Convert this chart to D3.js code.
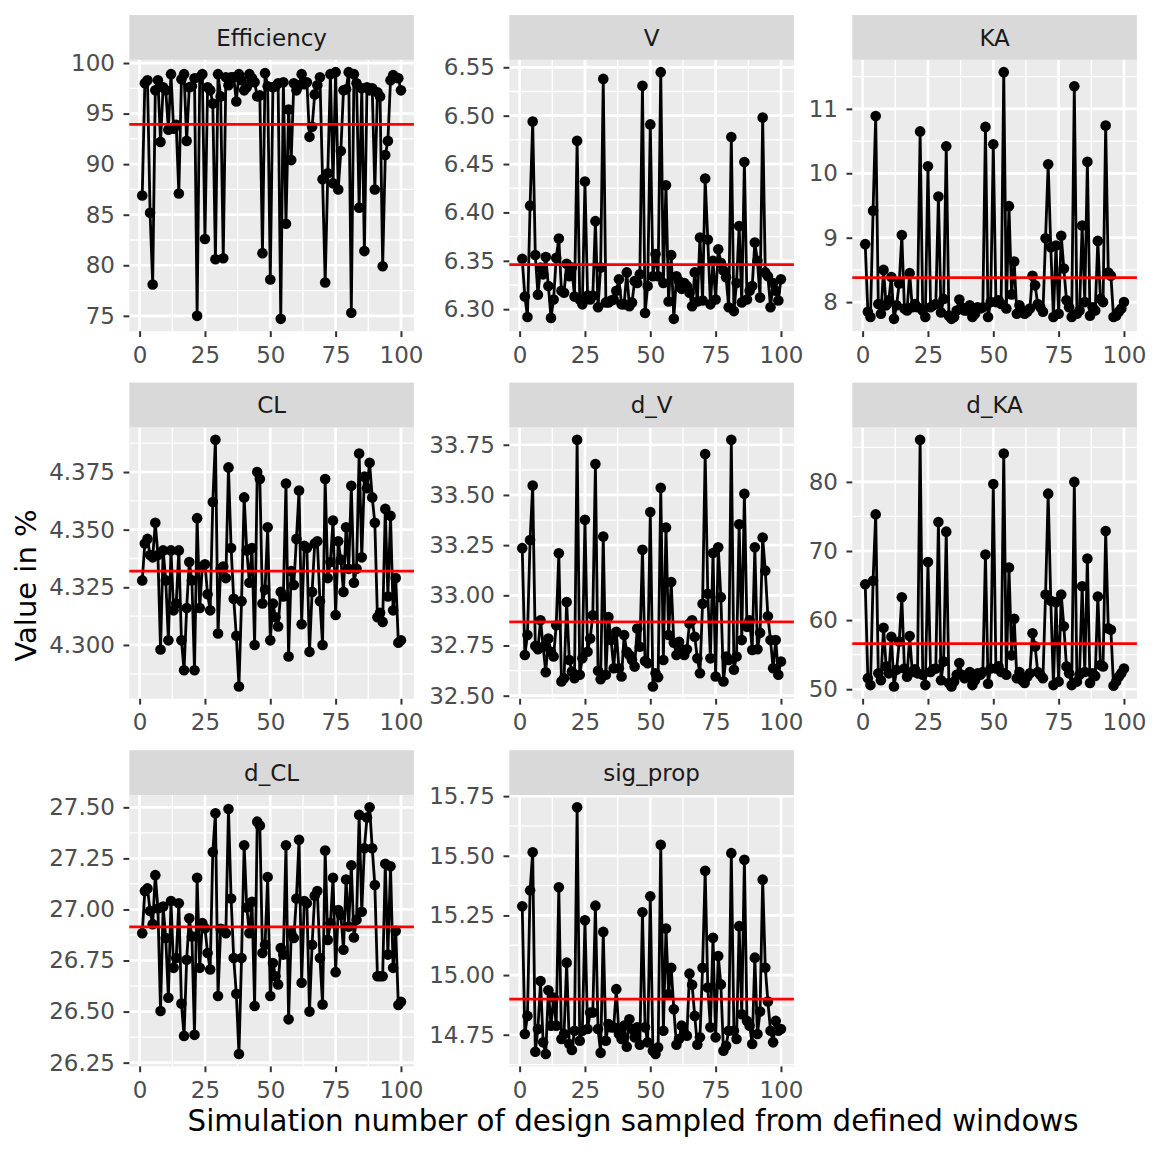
<!DOCTYPE html>
<html>
<head>
<meta charset="utf-8">
<title>Simulation parameters by design</title>
<script src="https://d3js.org/d3.v7.min.js"></script>
<style>
    body { margin: 0; background: white; }
    svg { display: block; font-family: "DejaVu Sans", sans-serif; }
</style>
</head>
<body>
<svg id="chart" width="1152" height="1152"></svg>
<script>
'use strict';

// facet names, in panel order
const params = ["Efficiency", "V", "KA", "CL", "d_V", "d_KA", "d_CL", "sig_prop"];

// simulation numbers 1..100 (x axis)
const simNumbers = d3.range(1, 101);

const efficiency = [
    86.9, 98.0, 98.3, 85.2, 78.1, 97.3, 98.3, 92.2, 97.6, 97.3,
    93.4, 98.9, 93.5, 93.9, 87.1, 98.4, 98.9, 92.3, 97.6, 97.7,
    98.5, 75.0, 98.6, 98.9, 82.6, 97.6, 97.3, 96.0, 80.6, 98.9,
    96.7, 80.7, 98.6, 97.8, 98.6, 98.6, 96.2, 98.9, 98.3, 97.3,
    97.6, 98.9, 98.5, 98.1, 96.7, 96.8, 81.2, 99.0, 97.7, 78.6,
    97.6, 97.7, 98.0, 74.7, 98.1, 84.1, 95.4, 90.4, 98.0, 97.3,
    97.8, 98.9, 97.9, 98.1, 92.7, 93.7, 96.9, 97.8, 98.6, 88.5,
    78.3, 89.1, 98.9, 88.1, 99.1, 87.5, 91.3, 97.3, 97.4, 99.1,
    75.3, 98.9, 98.0, 85.7, 97.5, 81.4, 97.6, 97.3, 97.5, 87.5,
    97.1, 96.7, 79.9, 90.9, 92.3, 98.3, 98.8, 98.6, 98.5, 97.3
];

const vValues = [
    6.352, 6.313, 6.292, 6.407, 6.494, 6.356, 6.315, 6.343, 6.336, 6.354,
    6.324, 6.291, 6.310, 6.353, 6.373, 6.319, 6.317, 6.347, 6.334, 6.343,
    6.313, 6.474, 6.310, 6.305, 6.432, 6.314, 6.310, 6.314, 6.391, 6.302,
    6.343, 6.538, 6.307, 6.307, 6.309, 6.310, 6.319, 6.331, 6.305, 6.305,
    6.338, 6.303, 6.307, 6.329, 6.327, 6.336, 6.531, 6.296, 6.324, 6.491,
    6.334, 6.357, 6.334, 6.545, 6.327, 6.428, 6.308, 6.356, 6.290, 6.334,
    6.329, 6.321, 6.327, 6.324, 6.317, 6.303, 6.338, 6.308, 6.374, 6.309,
    6.435, 6.372, 6.305, 6.350, 6.310, 6.362, 6.348, 6.340, 6.333, 6.302,
    6.478, 6.298, 6.327, 6.386, 6.307, 6.452, 6.310, 6.319, 6.324, 6.369,
    6.350, 6.312, 6.498, 6.338, 6.334, 6.302, 6.327, 6.319, 6.309, 6.331
];

const kaValues = [
    8.90, 7.85, 7.77, 9.42, 10.89, 7.97, 7.82, 8.50, 7.95, 8.03,
    8.39, 7.74, 7.95, 8.29, 9.04, 7.90, 7.87, 8.45, 7.92, 7.97,
    7.92, 10.65, 7.87, 7.77, 10.11, 7.92, 7.95, 7.97, 9.64, 7.84,
    8.05, 10.42, 7.79, 7.74, 7.77, 7.87, 8.04, 7.92, 7.87, 7.87,
    7.95, 7.77, 7.82, 7.92, 7.90, 7.92, 10.72, 7.77, 8.00, 10.45,
    8.00, 8.03, 7.97, 11.57, 7.90, 9.49, 8.12, 8.63, 7.82, 7.95,
    7.87, 7.82, 7.85, 7.90, 8.41, 8.26, 7.97, 7.92, 7.85, 8.99,
    10.14, 8.85, 7.77, 8.88, 7.82, 9.03, 8.52, 8.03, 7.92, 7.77,
    11.35, 7.82, 7.87, 9.19, 8.00, 10.18, 7.79, 7.92, 7.87, 8.95,
    8.05, 8.00, 10.74, 8.46, 8.41, 7.77, 7.79, 7.85, 7.90, 8.00
];

const clValues = [
    4.328, 4.344, 4.346, 4.339, 4.338, 4.353, 4.339, 4.298, 4.341, 4.328,
    4.302, 4.341, 4.315, 4.318, 4.341, 4.302, 4.289, 4.316, 4.336, 4.328,
    4.289, 4.355, 4.316, 4.334, 4.335, 4.322, 4.315, 4.362, 4.389, 4.305,
    4.333, 4.334, 4.329, 4.377, 4.342, 4.320, 4.304, 4.282, 4.319, 4.364,
    4.341, 4.327, 4.342, 4.300, 4.375, 4.372, 4.318, 4.324, 4.351, 4.302,
    4.318, 4.312, 4.308, 4.323, 4.321, 4.370, 4.295, 4.332, 4.326, 4.346,
    4.367, 4.309, 4.343, 4.342, 4.297, 4.323, 4.344, 4.345, 4.319, 4.300,
    4.372, 4.329, 4.336, 4.354, 4.313, 4.345, 4.337, 4.323, 4.351, 4.333,
    4.369, 4.327, 4.333, 4.383, 4.338, 4.373, 4.368, 4.379, 4.364, 4.353,
    4.312, 4.314, 4.310, 4.359, 4.321, 4.356, 4.315, 4.329, 4.301, 4.302
];

const dVValues = [
    33.235, 32.703, 32.802, 33.275, 33.547, 32.747, 32.731, 32.876, 32.744, 32.617,
    32.785, 32.719, 32.695, 32.851, 33.209, 32.571, 32.587, 32.967, 32.678, 32.620,
    32.587, 33.775, 32.604, 32.686, 33.376, 32.719, 32.785, 32.901, 33.654, 32.624,
    32.582, 33.293, 32.604, 32.892, 32.777, 32.637, 32.818, 32.637, 32.596, 32.802,
    32.719, 32.703, 32.678, 32.645, 32.835, 32.744, 33.227, 32.673, 32.662, 33.415,
    32.546, 32.612, 32.592, 33.536, 32.678, 33.338, 32.802, 33.066, 32.764, 32.703,
    32.769, 32.731, 32.703, 32.731, 32.860, 32.876, 32.794, 32.686, 32.612, 32.958,
    33.704, 33.008, 32.686, 33.211, 32.596, 33.239, 32.991, 32.571, 32.695, 32.678,
    33.775, 32.629, 32.695, 33.354, 32.777, 33.506, 32.843, 32.876, 32.728, 33.239,
    32.731, 32.813, 33.288, 33.123, 32.896, 32.777, 32.637, 32.777, 32.604, 32.670
];

const dKAValues = [
    65.2, 51.6, 50.6, 65.7, 75.3, 52.3, 51.3, 58.9, 53.3, 52.3,
    57.6, 50.4, 52.8, 56.9, 63.3, 53.0, 51.8, 57.7, 52.5, 52.9,
    52.3, 86.1, 52.1, 50.6, 68.4, 52.5, 52.9, 53.0, 74.2, 51.3,
    54.0, 72.8, 50.9, 50.4, 51.1, 52.1, 53.8, 52.1, 51.6, 51.8,
    52.5, 50.6, 51.3, 52.3, 52.1, 52.5, 69.5, 50.8, 53.0, 79.7,
    53.0, 53.3, 52.5, 84.1, 52.1, 67.6, 54.9, 60.2, 51.6, 52.5,
    51.3, 50.9, 51.8, 52.3, 58.1, 56.2, 52.5, 52.1, 51.6, 63.7,
    78.3, 62.8, 50.6, 62.6, 51.1, 63.7, 59.1, 53.3, 52.3, 50.6,
    80.0, 51.1, 52.1, 64.9, 52.5, 68.9, 50.9, 52.3, 51.9, 63.4,
    53.5, 53.3, 72.9, 58.8, 58.6, 50.5, 51.1, 51.8, 52.3, 53.0
];

const dCLValues = [
    26.884, 27.090, 27.103, 26.993, 26.928, 27.168, 27.005, 26.503, 27.014, 26.860,
    26.568, 27.041, 26.714, 26.762, 27.030, 26.539, 26.381, 26.754, 26.957, 26.868,
    26.386, 27.155, 26.714, 26.933, 26.908, 26.787, 26.706, 27.281, 27.471, 26.576,
    26.905, 26.900, 26.884, 27.492, 27.054, 26.762, 26.587, 26.292, 26.762, 27.314,
    27.009, 26.884, 27.038, 26.527, 27.430, 27.411, 26.787, 26.827, 27.159, 26.576,
    26.738, 26.673, 26.633, 26.811, 26.779, 27.314, 26.462, 26.884, 26.860, 27.054,
    27.341, 26.641, 27.041, 27.030, 26.500, 26.827, 27.067, 27.090, 26.762, 26.535,
    27.289, 26.851, 26.933, 27.155, 26.693, 26.997, 26.973, 26.803, 27.147, 26.916,
    27.216, 26.863, 26.949, 27.463, 26.989, 27.300, 27.450, 27.500, 27.300, 27.120,
    26.673, 26.673, 26.673, 27.224, 26.779, 27.211, 26.714, 26.895, 26.532, 26.548
];

const sigPropValues = [
    15.288, 14.753, 14.829, 15.355, 15.515, 14.679, 14.774, 14.975, 14.718, 14.669,
    14.936, 14.788, 14.906, 14.788, 15.368, 14.732, 14.753, 15.052, 14.711, 14.686,
    14.767, 15.703, 14.725, 14.767, 15.230, 14.774, 14.843, 14.843, 15.291, 14.774,
    14.674, 15.181, 14.725, 14.795, 14.781, 14.781, 14.941, 14.753, 14.732, 14.788,
    14.700, 14.815, 14.774, 14.739, 14.781, 14.708, 15.263, 14.781, 14.718, 15.330,
    14.683, 14.669, 14.697, 15.546, 14.767, 15.195, 14.920, 15.031, 14.857, 14.708,
    14.732, 14.788, 14.756, 14.746, 15.006, 14.959, 14.829, 14.708, 14.739, 15.031,
    15.437, 14.948, 14.781, 15.156, 14.739, 15.080, 14.961, 14.683, 14.704, 14.767,
    15.511, 14.767, 14.732, 15.205, 14.836, 15.483, 14.808, 14.788, 14.711, 15.073,
    14.753, 14.847, 15.400, 15.031, 14.889, 14.767, 14.718, 14.808, 14.767, 14.774
];

// red reference line per facet
const refLines = [93.93, 6.346, 8.38, 4.332, 32.868, 56.6, 26.915, 14.899];

// y tick labels per facet (free scales)
const yTickLabels = [
    ["75", "80", "85", "90", "95", "100"],
    ["6.30", "6.35", "6.40", "6.45", "6.50", "6.55"],
    ["8", "9", "10", "11"],
    ["4.300", "4.325", "4.350", "4.375"],
    ["32.50", "32.75", "33.00", "33.25", "33.50", "33.75"],
    ["50", "60", "70", "80"],
    ["26.25", "26.50", "26.75", "27.00", "27.25", "27.50"],
    ["14.75", "15.00", "15.25", "15.50", "15.75"]
];

const xTicks = [0, 25, 50, 75, 100];

const seriesValues = [efficiency, vValues, kaValues, clValues, dVValues, dKAValues, dCLValues, sigPropValues];

// layout
const colLeft = [129.3, 509.3, 852.3];
const panelW = 284.6;
const rowTop = 15;
const rowPitch = 367.6;
const stripH = 44.8;
const panelH = 271.4;

const tickFont = 23;
const svg = d3.select("#chart");

function minorBreaks(major, domain) {
    const step = major[1] - major[0];
    const ext = [major[0] - step].concat(major, [major[major.length - 1] + step]);
    const out = [];
    for (let i = 0; i < ext.length - 1; i++) {
        const m = (ext[i] + ext[i + 1]) / 2;
        if (m >= domain[0] && m <= domain[1]) out.push(m);
    }
    return out;
}

params.forEach((name, i) => {
    const col = i % 3, row = Math.floor(i / 3);
    const left = colLeft[col], right = left + panelW;
    const sTop = rowTop + row * rowPitch;
    const top = sTop + stripH, bottom = top + panelH;

    const vals = seriesValues[i];
    const data = simNumbers.map((s, k) => ({ sim: s, value: vals[k] }));

    const xr = d3.extent(simNumbers);
    const xpad = (xr[1] - xr[0]) * 0.05;
    const x = d3.scaleLinear().domain([xr[0] - xpad, xr[1] + xpad]).range([left, right]);

    const yr = d3.extent(vals.concat([refLines[i]]));
    const ypad = (yr[1] - yr[0]) * 0.05;
    const y = d3.scaleLinear().domain([yr[0] - ypad, yr[1] + ypad]).range([bottom, top]);

    const yMajor = yTickLabels[i].map(Number);

    const g = svg.append("g");

    // panel background
    g.append("rect")
        .attr("x", left).attr("y", top)
        .attr("width", panelW).attr("height", panelH)
        .attr("fill", "#EBEBEB");

    // minor grid
    g.selectAll(".ymin").data(minorBreaks(yMajor, y.domain())).join("line")
        .attr("x1", left).attr("x2", right)
        .attr("y1", d => y(d)).attr("y2", d => y(d))
        .attr("stroke", "white").attr("stroke-width", 1.3);
    g.selectAll(".xmin").data(minorBreaks(xTicks, x.domain())).join("line")
        .attr("x1", d => x(d)).attr("x2", d => x(d))
        .attr("y1", top).attr("y2", bottom)
        .attr("stroke", "white").attr("stroke-width", 1.3);

    // major grid
    g.append("g").selectAll("line").data(yMajor).join("line")
        .attr("x1", left).attr("x2", right)
        .attr("y1", d => y(d)).attr("y2", d => y(d))
        .attr("stroke", "white").attr("stroke-width", 2.7);
    g.append("g").selectAll("line").data(xTicks).join("line")
        .attr("x1", d => x(d)).attr("x2", d => x(d))
        .attr("y1", top).attr("y2", bottom)
        .attr("stroke", "white").attr("stroke-width", 2.7);

    // series
    const line = d3.line().x(d => x(d.sim)).y(d => y(d.value));
    g.append("path")
        .datum(data)
        .attr("d", line)
        .attr("fill", "none")
        .attr("stroke", "black")
        .attr("stroke-width", 2.8)
        .attr("stroke-linejoin", "round");

    g.append("g").selectAll("circle").data(data).join("circle")
        .attr("cx", d => x(d.sim))
        .attr("cy", d => y(d.value))
        .attr("r", 5.3)
        .attr("fill", "black");

    // reference line
    g.append("line")
        .attr("x1", left).attr("x2", right)
        .attr("y1", y(refLines[i])).attr("y2", y(refLines[i]))
        .attr("stroke", "#FF0000").attr("stroke-width", 2.7);

    // strip
    g.append("rect")
        .attr("x", left).attr("y", sTop)
        .attr("width", panelW).attr("height", stripH)
        .attr("fill", "#D9D9D9");
    g.append("text")
        .attr("x", (left + right) / 2)
        .attr("y", sTop + stripH / 2)
        .attr("dy", "0.36em")
        .attr("text-anchor", "middle")
        .attr("fill", "#1A1A1A")
        .style("font-size", "23px")
        .text(name);

    // axes
    const yAxis = g.append("g")
        .attr("transform", `translate(${left},0)`)
        .call(d3.axisLeft(y).tickValues(yMajor)
            .tickFormat((d, k) => yTickLabels[i][k])
            .tickSize(5.8).tickPadding(8.5));
    const xAxis = g.append("g")
        .attr("transform", `translate(0,${bottom})`)
        .call(d3.axisBottom(x).tickValues(xTicks)
            .tickFormat(d3.format("d"))
            .tickSize(5.8).tickPadding(9.2));

    [yAxis, xAxis].forEach(ax => {
        ax.select(".domain").remove();
        ax.selectAll(".tick line").attr("stroke", "#333333").attr("stroke-width", 2);
        ax.selectAll(".tick text")
            .attr("fill", "#4D4D4D")
            .style("font-family", "DejaVu Sans, sans-serif")
            .style("font-size", tickFont + "px");
    });
});

// axis titles
svg.append("text")
    .attr("x", (colLeft[0] + colLeft[2] + panelW) / 2)
    .attr("y", 1131)
    .attr("text-anchor", "middle")
    .attr("fill", "black")
    .style("font-size", "29.3px")
    .text("Simulation number of design sampled from defined windows");

svg.append("text")
    .attr("transform", `translate(36,${(rowTop + stripH + 2 * rowPitch + stripH + panelH + rowTop + stripH) / 2}) rotate(-90)`)
    .attr("text-anchor", "middle")
    .attr("fill", "black")
    .style("font-size", "29px")
    .text("Value in %");
</script>
</body>
</html>
